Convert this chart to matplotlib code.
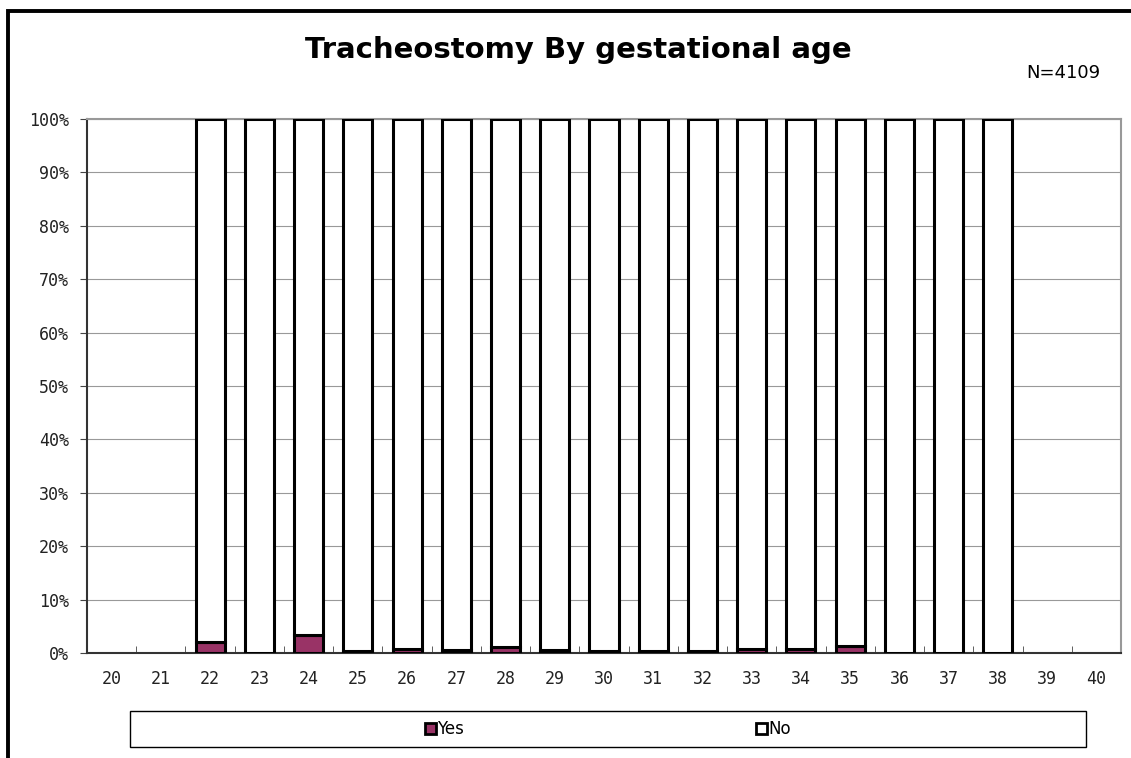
import matplotlib.pyplot as plt
import matplotlib.patches as mpatches
import numpy as np

# Gestational age (weeks) and percentage of tracheostomy per group
ages = list(range(20, 41))
yes_pct = [None, None, 2.0, 0.0, 3.3, 0.4, 0.8, 0.6, 1.1, 0.5, 0.4,
           0.3, 0.3, 0.7, 0.7, 1.3, 0.0, 0.0, 0.0, None, None]
total_n = 4109

yes_color = "#993366"
mono = "DejaVu Sans Mono"

fig = plt.figure(figsize=(11.31, 7.58), dpi=100)
ax = fig.add_axes([87 / 1131, 1 - 653 / 758, 1034 / 1131, 534 / 758])

x = np.arange(len(ages))
width = 0.59
for i, v in enumerate(yes_pct):
    if v is None:
        continue
    ax.bar(x[i], v, width, color=yes_color, edgecolor="black", linewidth=2.2, zorder=3)
    ax.bar(x[i], 100 - v, width, bottom=v, color="white", edgecolor="black",
           linewidth=2.2, zorder=3)

ax.set_xlim(-0.5, len(ages) - 0.5)
ax.set_ylim(0, 100)
ax.set_yticks(np.arange(0, 101, 10))
ax.set_yticklabels([f"{t}%" for t in range(0, 101, 10)], family=mono, fontsize=12,
                   color="#222222")
ax.set_xticks(x)
ax.set_xticklabels([str(a) for a in ages], family=mono, fontsize=12, color="#222222")
ax.set_xticks(np.arange(-0.5, len(ages) - 0.4, 1), minor=True)
ax.tick_params(axis="x", which="major", length=0, pad=12)
ax.tick_params(axis="x", which="minor", direction="in", length=5, color="#444")
ax.tick_params(axis="y", length=5, color="#444", pad=8)
ax.yaxis.grid(True, color="#999999", linewidth=0.8)
ax.set_axisbelow(True)
for side in ["top", "right"]:
    ax.spines[side].set_color("#999999")
    ax.spines[side].set_linewidth(1.5)
for side in ["left", "bottom"]:
    ax.spines[side].set_color("#333333")
    ax.spines[side].set_linewidth(1.5)

fig.text(578 / 1131, 1 - 50 / 758, "Tracheostomy By gestational age",
         ha="center", va="center", fontsize=21, fontweight="bold")
fig.text(1063 / 1131, 1 - 73 / 758, f"N={total_n}", ha="center", va="center",
         fontsize=13)

# outer frame, running off the right and bottom edges
fig.patches.append(mpatches.Rectangle((8 / 1131, -0.05), 1.2, 1 - 11 / 758 + 0.05,
                                      transform=fig.transFigure, fill=False,
                                      edgecolor="black", linewidth=2.8))
# legend box
fig.patches.append(mpatches.Rectangle((130 / 1131, 1 - 747 / 758), 956 / 1131, 36 / 758,
                                      transform=fig.transFigure, fill=False,
                                      edgecolor="black", linewidth=1))

handles = [mpatches.Patch(facecolor=yes_color, edgecolor="black", linewidth=2, label="Yes"),
           mpatches.Patch(facecolor="white", edgecolor="black", linewidth=2, label="No")]
fig.legend(handles=handles, loc="center", bbox_to_anchor=(608 / 1131, 1 - 729 / 758),
           ncol=2, frameon=False, fontsize=12, handlelength=0.65, handleheight=0.65,
           handletextpad=0.1, columnspacing=17.5)

fig.savefig("out.png", dpi=100)
